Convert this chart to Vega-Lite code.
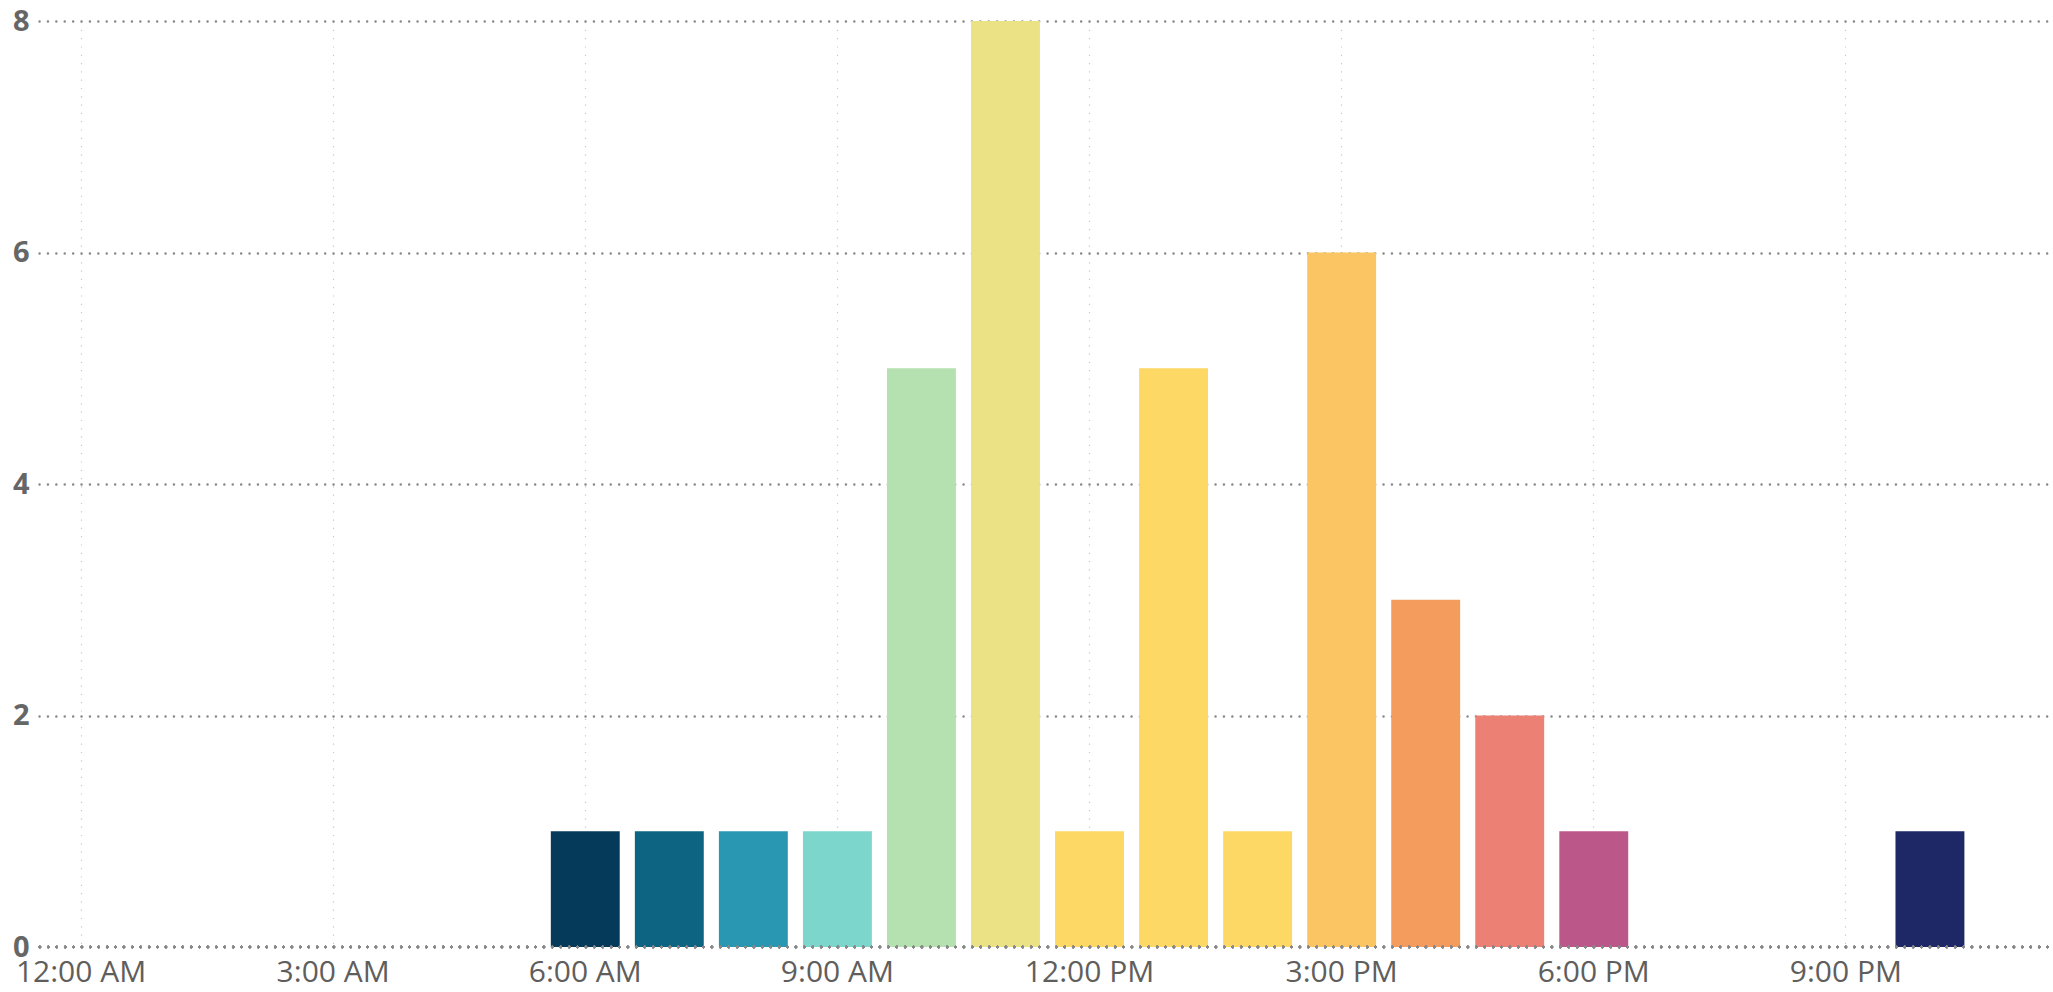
{
  "$schema": "https://vega.github.io/schema/vega-lite/v6.json",
  "autosize": "none",
  "padding": {"left": 39, "top": 21, "right": 0, "bottom": 45},
  "width": 2017,
  "height": 926,
  "background": "white",
  "config": {"view": {"stroke": null}},
  "data": {"values": [
    {"hour": 6, "count": 1},
    {"hour": 7, "count": 1},
    {"hour": 8, "count": 1},
    {"hour": 9, "count": 1},
    {"hour": 10, "count": 5},
    {"hour": 11, "count": 8},
    {"hour": 12, "count": 1},
    {"hour": 13, "count": 5},
    {"hour": 14, "count": 1},
    {"hour": 15, "count": 6},
    {"hour": 16, "count": 3},
    {"hour": 17, "count": 2},
    {"hour": 18, "count": 1},
    {"hour": 22, "count": 1}
  ]},
  "layer": [
    {
      "mark": {"type": "bar", "cornerRadius": 0},
      "encoding": {
        "x": {
          "field": "hour", "type": "ordinal",
          "scale": {"domain": [0,1,2,3,4,5,6,7,8,9,10,11,12,13,14,15,16,17,18,19,20,21,22,23], "paddingInner": 0.18, "paddingOuter": 0.09},
          "axis": {
            "title": null,
            "values": [0,3,6,9,12,15,18,21],
            "labelExpr": "datum.value == 0 ? '12:00 AM' : datum.value < 12 ? datum.value + ':00 AM' : datum.value == 12 ? '12:00 PM' : (datum.value - 12) + ':00 PM'",
            "labelAngle": 0,
            "labelFont": "Open Sans",
            "labelFontSize": 30,
            "labelColor": "#605E5C",
            "labelPadding": 10,
            "bandPosition": 0.5,
            "domain": false,
            "ticks": false,
            "grid": true,
            "gridColor": "#C8C8C8",
            "gridWidth": 1.2,
            "gridDash": [1.2, 7.1],
            "labelOverlap": false
          }
        },
        "y": {
          "field": "count", "type": "quantitative",
          "scale": {"domain": [0, 8], "nice": false},
          "axis": {
            "title": null,
            "values": [0, 2, 4, 6, 8],
            "format": "d",
            "labelFont": "Open Sans",
            "labelFontWeight": "bold",
            "labelFontSize": 29,
            "labelColor": "#666666",
            "labelPadding": 10,
            "domain": false,
            "ticks": false,
            "grid": true,
            "gridColor": "#888888",
            "gridOpacity": {"condition": {"test": "datum.value == 0", "value": 0}, "value": 1},
            "gridWidth": 2.4,
            "gridCap": "round",
            "gridDash": [0.1, 8.3]
          }
        },
        "color": {
          "field": "hour", "type": "ordinal",
          "scale": {
            "domain": [6,7,8,9,10,11,12,13,14,15,16,17,18,22],
            "range": ["#063A5B","#0D6482","#2A97B2","#7DD6CC","#B5E0AF","#EBE285","#FDD865","#FDD865","#FDD865","#FAC562","#F49B5E","#EC8075","#BC5789","#1E2867"]
          },
          "legend": null
        }
      }
    },
    {
      "mark": {"type": "rule", "color": "#888888", "strokeWidth": 2.4, "strokeCap": "round", "strokeDash": [0.1, 8.3]},
      "encoding": {"y": {"datum": 0}}
    }
  ]
}
